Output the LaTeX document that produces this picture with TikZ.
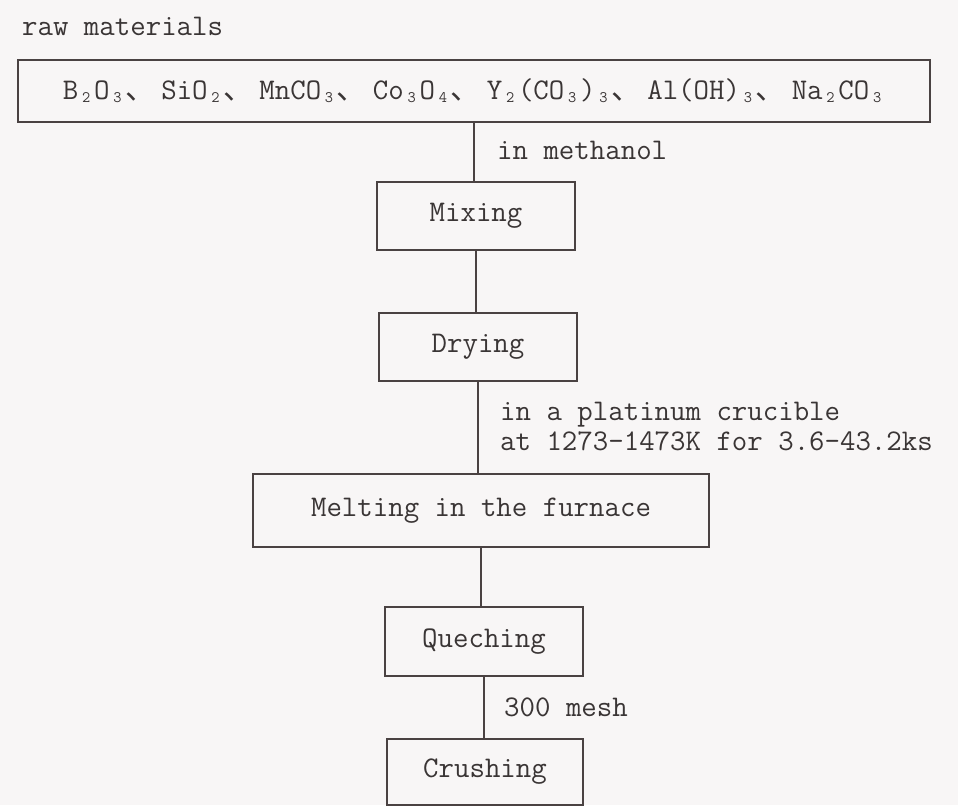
\documentclass[tikz,border=0pt]{standalone}
\usepackage{fontspec}
\usepackage{xcolor}
\definecolor{ScanInk}  {HTML}{3A3535}
\definecolor{ScanLine} {HTML}{4A4242}
\definecolor{ScanPaper}{HTML}{F8F6F6}
\newfontfamily\cjkfont{Noto Sans CJK JP}
\usetikzlibrary{positioning}
\newcommand{\chemsub}[1]{\makebox[0.525em]{\raisebox{-3pt}{\fontsize{16}{16}\selectfont #1}}}
\newcommand{\jcomma}{{\cjkfont 、}\hspace{6pt}}

\begin{document}
\begin{tikzpicture}[x=1pt,y=-1pt,
  font=\ttfamily\fontsize{30}{30}\selectfont,
  stage/.style={draw=ScanLine,line width=1.2pt,text=ScanInk,
    minimum width=198,minimum height=68,inner sep=0pt},
  note/.style={text=ScanInk,inner sep=0pt,anchor=base west},
  link/.style={ScanLine,line width=1.2pt}]
  % Paper
  \fill[ScanPaper] (0,0) rectangle (958,805);
  % Raw materials
  \node[note] (rawlbl) at (22,35) {raw materials};
  \node[stage,minimum width=912,minimum height=62] (raw) at (474,91)
    {B\chemsub{2}O\chemsub{3}\jcomma SiO\chemsub{2}\jcomma
     MnCO\chemsub{3}\jcomma Co\chemsub{3}O\chemsub{4}\jcomma
     Y\chemsub{2}(CO\chemsub{3})\chemsub{3}\jcomma
     Al(OH)\chemsub{3}\jcomma Na\chemsub{2}CO\chemsub{3}};
  % Process steps
  \node[stage] (mixing) at (476,216) {Mixing};
  \node[stage] (drying) at (478,347) {Drying};
  \node[stage,minimum width=456,minimum height=73] (melting)
    at (481,510.5) {Melting in the furnace};
  \node[stage,minimum height=69] (queching) at (484,641.5) {Queching};
  \node[stage,minimum width=196,minimum height=66] (crushing)
    at (485,772) {Crushing};
  % Connectors
  \draw[link] (raw.south) -- (raw.south |- mixing.north);
  \draw[link] (mixing.south) -- (mixing.south |- drying.north);
  \draw[link] (drying.south) -- (drying.south |- melting.north);
  \draw[link] (melting.south) -- (melting.south |- queching.north);
  \draw[link] (queching.south) -- (queching.south |- crushing.north);
  % Conditions
  \node[note] (methanol) at (497,159) {in methanol};
  \node[note,align=left] (crucible) at (500,450)
    {in a platinum crucible\\at 1273-1473K for 3.6-43.2ks};
  \node[note] (mesh) at (504,716) {300 mesh};
\end{tikzpicture}
\end{document}
